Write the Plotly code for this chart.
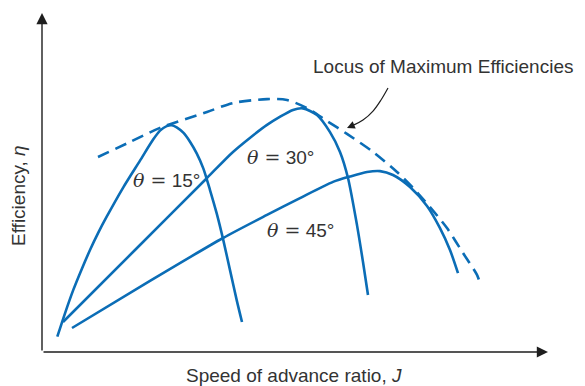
import plotly.graph_objects as go

# Speed of advance ratio J (x) and efficiency eta (y), arbitrary units
j_15 = [0.153, 0.23, 0.313, 0.397, 0.48, 0.563, 0.647, 0.813, 0.98, 1.113, 1.18, 1.247, 1.297, 1.347,
        1.413, 1.48, 1.547, 1.613, 1.68, 1.747, 1.813, 1.88, 1.947, 2.0]
eta_15 = [0.051, 0.129, 0.207, 0.276, 0.34, 0.398, 0.451, 0.549, 0.638, 0.709, 0.738, 0.753, 0.756, 0.749,
          0.731, 0.701, 0.662, 0.612, 0.54, 0.462, 0.373, 0.273, 0.173, 0.1]

j_30 = [0.21, 0.93, 1.65, 1.91, 2.25, 2.51, 2.61, 2.75, 2.88, 2.98, 3.06, 3.15, 3.21, 3.26]
eta_30 = [0.100, 0.340, 0.580, 0.667, 0.757, 0.807, 0.812, 0.790, 0.733, 0.667, 0.580, 0.423, 0.300, 0.190]

j_45 = [0.30, 1.08, 1.81, 2.25, 2.58, 2.91, 3.08, 3.25, 3.38, 3.51, 3.68, 3.85, 3.98, 4.08, 4.16]
eta_45 = [0.080, 0.237, 0.380, 0.457, 0.513, 0.567, 0.585, 0.600, 0.603, 0.590, 0.550, 0.487, 0.413, 0.340, 0.263]

j_locus = [0.56, 0.88, 1.18, 1.65, 1.91, 2.25, 2.45, 2.65, 2.85, 3.05, 3.31, 3.55, 3.71, 3.88, 4.05, 4.21, 4.35, 4.38]
eta_locus = [0.650, 0.700, 0.747, 0.800, 0.830, 0.843, 0.840, 0.813, 0.770, 0.727, 0.667, 0.600, 0.547, 0.483, 0.413, 0.330, 0.257, 0.230]

# curved pointer from label to locus
j_pointer = [3.46, 3.39, 3.31, 3.21, 3.12, 3.05]
eta_pointer = [0.880, 0.840, 0.803, 0.773, 0.757, 0.747]

curve_labels = ["15°", "30°", "45°"]
label_pos_j = [1.24, 2.38, 2.58]
label_pos_eta = [0.573, 0.650, 0.407]

x_axis_end = 5.06
y_axis_end = 1.13

BLUE = "#0b6db6"
INK = "#333333"
AXIS = "#1e1e1e"
SANS = "Liberation Sans, Arial, sans-serif"
SERIF = "DejaVu Serif, serif"

fig = go.Figure()

for jj, ee in [(j_15, eta_15), (j_30, eta_30), (j_45, eta_45)]:
    fig.add_trace(go.Scatter(x=jj, y=ee, mode="lines",
                             line=dict(color=BLUE, width=2.6, shape="spline", smoothing=0.7),
                             hoverinfo="skip", showlegend=False))

fig.add_trace(go.Scatter(x=j_locus, y=eta_locus, mode="lines",
                         line=dict(color=BLUE, width=2.6, dash="12px,7px", shape="spline", smoothing=0.8),
                         hoverinfo="skip", showlegend=False))

fig.add_trace(go.Scatter(x=j_pointer[:-1], y=eta_pointer[:-1], mode="lines",
                         line=dict(color=AXIS, width=1.2, shape="spline", smoothing=1.0),
                         hoverinfo="skip", showlegend=False))

annotations = []
# axes drawn as arrows
annotations.append(dict(x=x_axis_end, y=0, ax=0, ay=0, xref="x", yref="y", axref="x", ayref="y",
                        showarrow=True, arrowhead=2, arrowsize=1.6, arrowwidth=1.4, arrowcolor=AXIS, text=""))
annotations.append(dict(x=0, y=y_axis_end, ax=0, ay=0, xref="x", yref="y", axref="x", ayref="y",
                        showarrow=True, arrowhead=2, arrowsize=1.6, arrowwidth=1.4, arrowcolor=AXIS, text=""))
# pointer arrowhead
annotations.append(dict(x=j_pointer[-1], y=eta_pointer[-1], ax=j_pointer[-2], ay=eta_pointer[-2],
                        xref="x", yref="y", axref="x", ayref="y",
                        showarrow=True, arrowhead=2, arrowsize=1.3, arrowwidth=1.2, arrowcolor=AXIS, text=""))

annotations.append(dict(x=2.69, y=0.951, xref="x", yref="y", xanchor="left", yanchor="middle",
                        text="Locus of Maximum Efficiencies", showarrow=False,
                        font=dict(family=SANS, size=19, color=INK)))
annotations.append(dict(x=2.52, y=-0.077, xref="x", yref="y", xanchor="center", yanchor="middle",
                        text="Speed of advance ratio, <i>J</i>", showarrow=False,
                        font=dict(family=SANS, size=19, color=INK)))
annotations.append(dict(x=-0.24, y=0.52, xref="x", yref="y", xanchor="center", yanchor="middle",
                        text="Efficiency, <i>η</i>", textangle=-90, showarrow=False,
                        font=dict(family=SANS, size=19, color=INK)))

for lab, lj, le in zip(curve_labels, label_pos_j, label_pos_eta):
    annotations.append(dict(x=lj, y=le, xref="x", yref="y", xanchor="center", yanchor="middle",
                            text=f"<span style='font-family:{SERIF}'><i>θ</i> =</span> {lab}",
                            showarrow=False, font=dict(family=SANS, size=19, color=INK)))

# the page body keeps an 8px default margin, so the figure covers the window from (8, 8)
fig.update_layout(
    width=577, height=378,
    margin=dict(l=0, r=0, t=0, b=0),
    paper_bgcolor="white", plot_bgcolor="white",
    xaxis=dict(range=[-0.34, 5.43], visible=False, fixedrange=True),
    yaxis=dict(range=[-0.1133, 1.1467], visible=False, fixedrange=True),
    annotations=annotations,
    showlegend=False,
)

fig.write_html("out.html")
